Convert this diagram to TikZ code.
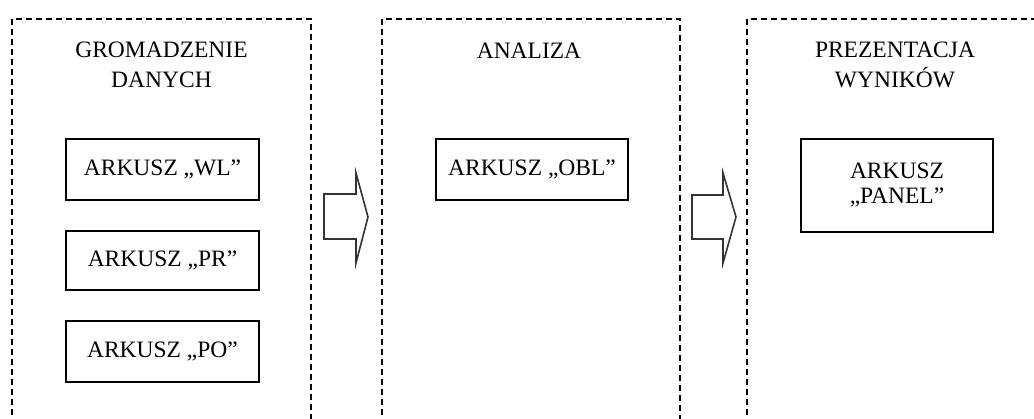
\documentclass[tikz,border=0pt]{standalone}
\usepackage{fontspec}
\setmainfont{Liberation Serif}
\begin{document}
\begin{tikzpicture}[x=1pt,y=-1pt,
  stage/.style={draw=black, line width=1.3pt, dash pattern=on 6pt off 4pt},
  sheet/.style={draw=black, line width=1.5pt, minimum height=61pt, inner sep=0pt, align=center, font=\fontsize{23.5}{25}\selectfont},
  title/.style={align=center, inner sep=0pt, anchor=base, font=\fontsize{23.5}{30}\selectfont},
  blockarrow/.style={draw=black!80, line width=1.6pt, line join=miter}]
\useasboundingbox (0,0) rectangle (1034,419);
% stage frames
\draw[stage] (12,425) -- (12,19) -- (311,19) -- (311,425);
\draw[stage] (382,425) -- (382,19) -- (680,19) -- (680,425);
\draw[stage] (747,425) -- (747,19) -- (1040,19);
% titles (base anchor = baseline of last line)
\node[title] (t1) at (161.5,88) {GROMADZENIE\\DANYCH};
\node[title] (t2) at (529,59) {ANALIZA};
\node[title] (t3) at (895,88) {PREZENTACJA\\WYNIKÓW};
% sheets
\node[sheet, minimum width=193pt] (wl) at (162.5,169.5) {ARKUSZ „WL”};
\node[sheet, minimum width=193pt, minimum height=59pt] (pr) at (162.5,260.5) {ARKUSZ „PR”};
\node[sheet, minimum width=193pt] (po) at (162.5,351.5) {ARKUSZ „PO”};
\node[sheet, minimum width=192pt] (obl) at (532,169.5) {ARKUSZ „OBL”};
\node[sheet, minimum width=192pt, minimum height=93pt] (panel) at (897,185.5) {ARKUSZ\\„PANEL”};
% block arrows
\draw[blockarrow] (324,194) coordinate (a1) -- (356,194) -- (356,173) -- (368,217) coordinate (a1tip) -- (356,263) -- (356,239) -- (324,239) -- cycle;
\draw[blockarrow] (692,195) coordinate (a2) -- (723,195) -- (723,173) -- (736,217) coordinate (a2tip) -- (723,263) -- (723,239) -- (692,239) -- cycle;
\end{tikzpicture}
\end{document}
